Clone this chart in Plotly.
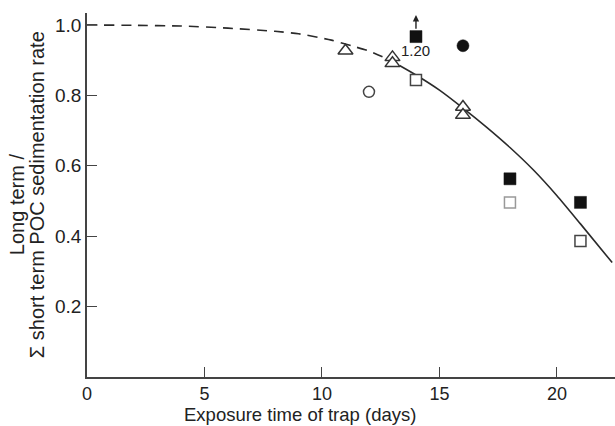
import plotly.graph_objects as go

# ---- data ----
curve_dash_x = [0, 2, 4, 6, 8, 9, 10.4, 11.3, 12, 12.8, 13.3]
curve_dash_y = [1.0, 0.999, 0.997, 0.991, 0.982, 0.975, 0.957, 0.940, 0.926, 0.903, 0.885]
curve_solid_x = [13.3, 14, 15, 16, 17, 18, 19, 20, 21, 22.35]
curve_solid_y = [0.885, 0.858, 0.815, 0.764, 0.710, 0.652, 0.588, 0.515, 0.435, 0.325]

open_tri_x = [11, 13, 13, 16, 16]
open_tri_y = [0.927, 0.908, 0.891, 0.767, 0.744]
open_sq_x = [14, 18, 21]
open_sq_y = [0.844, 0.496, 0.386]
filled_sq_x = [14, 18, 21]
filled_sq_y = [0.967, 0.563, 0.496]
open_circ_x = [12]
open_circ_y = [0.81]
filled_circ_x = [16]
filled_circ_y = [0.941]

x_ticks = [0, 5, 10, 15, 20]
y_ticks = [0.2, 0.4, 0.6, 0.8, 1.0]
off_scale_label = "1.20"

FONT = "Liberation Sans, Arial, sans-serif"
INK = "#2a2a2a"
TXT = "#222"

fig = go.Figure()
fig.add_trace(go.Scatter(x=curve_dash_x, y=curve_dash_y, mode="lines",
                         line=dict(color=INK, width=1.6, dash="10px,7px", shape="spline", smoothing=0.6),
                         showlegend=False, hoverinfo="skip"))
fig.add_trace(go.Scatter(x=curve_solid_x, y=curve_solid_y, mode="lines",
                         line=dict(color=INK, width=1.6, shape="spline", smoothing=0.6),
                         showlegend=False, hoverinfo="skip"))
fig.add_trace(go.Scatter(x=open_tri_x, y=open_tri_y, mode="markers",
                         marker=dict(symbol="triangle-up", size=13, color="white",
                                     line=dict(color="#333", width=1.5)),
                         showlegend=False))
fig.add_trace(go.Scatter(x=open_sq_x, y=open_sq_y, mode="markers",
                         marker=dict(symbol="square", size=11, color="white",
                                     line=dict(color=["#444", "#999", "#444"], width=1.5)),
                         showlegend=False))
fig.add_trace(go.Scatter(x=filled_sq_x, y=filled_sq_y, mode="markers",
                         marker=dict(symbol="square", size=12, color="#111",
                                     line=dict(color="#111", width=0.5)),
                         showlegend=False))
fig.add_trace(go.Scatter(x=open_circ_x, y=open_circ_y, mode="markers",
                         marker=dict(symbol="circle", size=11, color="white",
                                     line=dict(color="#444", width=1.5)),
                         showlegend=False))
fig.add_trace(go.Scatter(x=filled_circ_x, y=filled_circ_y, mode="markers",
                         marker=dict(symbol="circle", size=12, color="#111",
                                     line=dict(color="#111", width=0.5)),
                         showlegend=False))

annotations = [
    # off-scale label under the filled square at 14 days
    dict(x=filled_sq_x[0], y=filled_sq_y[0], xref="x", yref="y", text=off_scale_label,
         showarrow=False, yshift=-14, font=dict(family=FONT, size=15, color=TXT)),
    # upward arrow above it
    dict(x=filled_sq_x[0], y=1.028, xref="x", yref="y", ax=filled_sq_x[0], ay=0.985,
         axref="x", ayref="y", text="", showarrow=True, arrowhead=2, arrowsize=0.9,
         arrowwidth=1.4, arrowcolor=TXT),
    # axis titles
    dict(x=(300 - 87) / 528, y=(376.7 - 414) / 363.7, xref="paper", yref="paper",
         text="Exposure time of trap (days)", showarrow=False,
         font=dict(family=FONT, size=18.5, color=TXT), xanchor="center", yanchor="middle"),
    dict(x=(17 - 87) / 528, y=(376.7 - 204) / 363.7, xref="paper", yref="paper",
         text="Long term /", textangle=-90, showarrow=False,
         font=dict(family=FONT, size=20, color=TXT), xanchor="center", yanchor="middle"),
    dict(x=(37 - 87) / 528, y=(376.7 - 195) / 363.7, xref="paper", yref="paper",
         text="Σ short term POC sedimentation rate", textangle=-90, showarrow=False,
         font=dict(family=FONT, size=20, color=TXT), xanchor="center", yanchor="middle"),
]

axis_common = dict(ticks="inside", ticklen=10, tickwidth=1.3, tickcolor="#444",
                   showline=True, linecolor="#444", linewidth=1.5, showgrid=False,
                   zeroline=False, fixedrange=True)

fig.update_layout(
    width=615, height=426,
    margin=dict(l=87, r=0, t=13, b=49.3, pad=0),
    paper_bgcolor="white", plot_bgcolor="white",
    annotations=annotations,
    font=dict(family=FONT, size=18, color=TXT),
    xaxis=dict(range=[0, 22.47], tickvals=x_ticks, ticktext=[str(v) for v in x_ticks],
               tickfont=dict(family=FONT, size=18, color=TXT), **axis_common),
    yaxis=dict(range=[0, 1.034], tickvals=y_ticks, ticktext=[f"{v:.1f}" for v in y_ticks],
               tickfont=dict(family=FONT, size=19, color=TXT), **axis_common),
)

fig.write_html("out.html")
